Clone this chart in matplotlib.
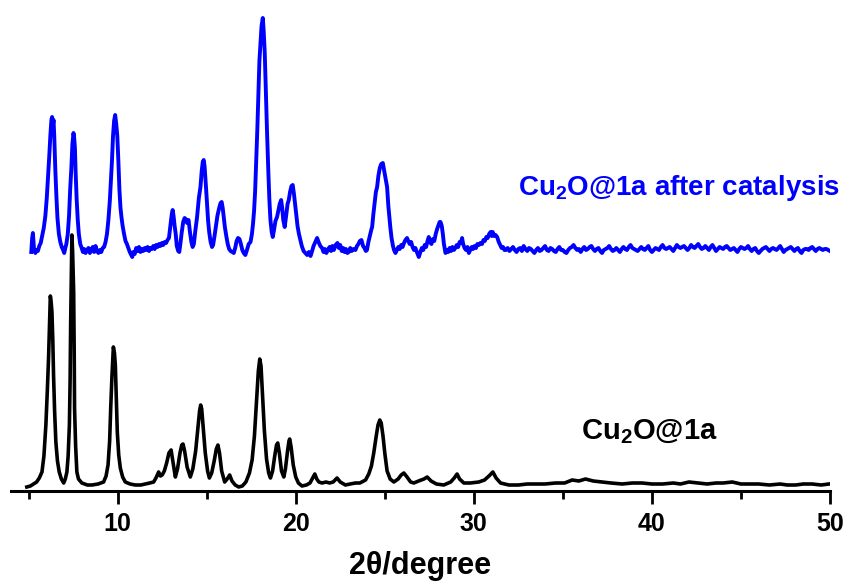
import matplotlib
matplotlib.use("Agg")
import matplotlib.pyplot as plt
import numpy as np

plt.rcParams['font.family'] = ['Liberation Sans', 'DejaVu Sans']
plt.rcParams['font.weight'] = 'bold'
plt.rcParams['mathtext.fontset'] = 'custom'
plt.rcParams['mathtext.rm'] = 'Liberation Sans:bold'
plt.rcParams['mathtext.bf'] = 'Liberation Sans:bold'
plt.rcParams['mathtext.default'] = 'bf'

# ---------------- data (2theta, intensity a.u.) ----------------
black_pattern = [
    (4.90, 4), (5.10, 5), (5.28, 7), (5.45, 9), (5.60, 13), (5.75, 19), (5.86, 35), (5.97, 66),
    (6.05, 100), (6.12, 133), (6.18, 170), (6.22, 195), (6.26, 190), (6.31, 179), (6.36, 150),
    (6.40, 116), (6.46, 80), (6.53, 49), (6.62, 30), (6.72, 19), (6.84, 12), (6.97, 8), (7.06, 12),
    (7.15, 19), (7.22, 35), (7.29, 66), (7.33, 110), (7.36, 166), (7.40, 220), (7.43, 256),
    (7.47, 240), (7.53, 199), (7.56, 140), (7.58, 83), (7.64, 45), (7.71, 19), (7.80, 12),
    (7.99, 8), (8.30, 6), (8.56, 6), (8.90, 7), (9.21, 9), (9.35, 15), (9.46, 26), (9.55, 50),
    (9.61, 83), (9.68, 115), (9.76, 144), (9.82, 138), (9.87, 126), (9.92, 95), (9.98, 59),
    (10.06, 36), (10.15, 23), (10.28, 14), (10.43, 9), (10.70, 7), (10.99, 6), (11.30, 6),
    (11.56, 7), (11.80, 8), (12.02, 9), (12.15, 13), (12.30, 19), (12.40, 15), (12.50, 16),
    (12.62, 20), (12.75, 28), (12.88, 38), (13.00, 41), (13.10, 30), (13.24, 14), (13.36, 22),
    (13.50, 38), (13.60, 46), (13.67, 47), (13.76, 40), (13.90, 24), (14.08, 14), (14.22, 22),
    (14.38, 40), (14.50, 62), (14.60, 80), (14.66, 86), (14.72, 82), (14.82, 60), (14.92, 38),
    (15.05, 20), (15.15, 13), (15.28, 18), (15.42, 30), (15.54, 42), (15.63, 46), (15.72, 38),
    (15.84, 20), (16.01, 9), (16.15, 12), (16.29, 16), (16.42, 10), (16.60, 6), (16.80, 4),
    (17.00, 5), (17.20, 9), (17.40, 18), (17.55, 31), (17.68, 55), (17.80, 90), (17.90, 120),
    (17.98, 132), (18.05, 125), (18.14, 95), (18.24, 60), (18.36, 32), (18.48, 18), (18.58, 13),
    (18.70, 20), (18.82, 35), (18.92, 46), (18.99, 48), (19.08, 38), (19.20, 20), (19.33, 14),
    (19.42, 22), (19.54, 40), (19.62, 50), (19.66, 52), (19.74, 44), (19.86, 26), (20.00, 14),
    (20.15, 8), (20.35, 5), (20.60, 6), (20.80, 8), (20.95, 13), (21.07, 17), (21.18, 12),
    (21.30, 9), (21.48, 8), (21.70, 9), (21.90, 8), (22.10, 9), (22.32, 13), (22.50, 9),
    (22.79, 6), (23.05, 7), (23.35, 8), (23.60, 8), (23.92, 11), (24.10, 17), (24.25, 25),
    (24.38, 38), (24.52, 55), (24.62, 66), (24.72, 71), (24.80, 68), (24.90, 55), (25.00, 38),
    (25.13, 20), (25.30, 12), (25.51, 9), (25.75, 12), (25.92, 16), (26.07, 18), (26.25, 14),
    (26.45, 9), (26.63, 8), (26.90, 10), (27.20, 12), (27.38, 14), (27.60, 10), (27.90, 7),
    (28.31, 6), (28.70, 9), (28.90, 13), (29.06, 17), (29.20, 12), (29.44, 8), (29.80, 8),
    (30.28, 9), (30.60, 11), (30.85, 15), (31.07, 19), (31.25, 13), (31.50, 8), (31.97, 6),
    (32.50, 6), (33.00, 7), (33.46, 7), (34.00, 7), (34.59, 8), (35.10, 8), (35.52, 11),
    (35.90, 10), (36.27, 12), (36.70, 10), (37.21, 9), (37.70, 8), (38.33, 7), (38.90, 8),
    (39.46, 8), (40.00, 7), (40.60, 7), (41.20, 8), (41.60, 7), (42.08, 9), (42.60, 8),
    (43.10, 7), (43.60, 8), (44.00, 8), (44.51, 9), (45.00, 7), (45.50, 7), (46.00, 7),
    (46.60, 6), (47.20, 7), (47.60, 6), (48.07, 6), (48.50, 7), (49.00, 7), (49.50, 6), (49.94, 7),
]

blue_pattern = [
    (5.15, 4), (5.20, 18), (5.24, 23), (5.30, 8), (5.38, 3), (5.45, 6), (5.52, 5), (5.60, 10),
    (5.68, 13), (5.76, 20), (5.85, 28), (5.94, 40), (6.02, 58), (6.10, 82), (6.16, 100),
    (6.22, 120), (6.28, 136), (6.32, 139), (6.36, 130), (6.40, 136), (6.44, 120), (6.50, 86),
    (6.56, 60), (6.62, 38), (6.70, 22), (6.78, 14), (6.86, 9), (6.94, 6), (7.00, 3), (7.06, 8),
    (7.12, 12), (7.20, 22), (7.27, 40), (7.33, 65), (7.40, 88), (7.46, 112), (7.52, 123),
    (7.56, 118), (7.60, 108), (7.64, 84), (7.70, 56), (7.76, 36), (7.82, 22), (7.90, 12),
    (7.98, 8), (8.05, 4), (8.12, 7), (8.20, 3), (8.28, 6), (8.36, 8), (8.44, 3), (8.52, 6),
    (8.60, 9), (8.68, 4), (8.76, 10), (8.84, 5), (8.92, 3), (9.00, 6), (9.08, 4), (9.16, 8),
    (9.24, 9), (9.32, 14), (9.40, 22), (9.48, 36), (9.56, 55), (9.62, 75), (9.68, 95),
    (9.74, 120), (9.80, 135), (9.86, 141), (9.92, 132), (9.98, 120), (10.04, 95), (10.10, 66),
    (10.16, 48), (10.22, 38), (10.28, 30), (10.36, 22), (10.44, 15), (10.52, 12), (10.60, 8),
    (10.68, 4), (10.76, 1), (10.82, -1), (10.88, 4), (10.96, 2), (11.04, 8), (11.12, 5),
    (11.20, 9), (11.28, 4), (11.36, 7), (11.44, 5), (11.52, 8), (11.60, 6), (11.68, 9),
    (11.76, 5), (11.84, 8), (11.92, 7), (12.00, 10), (12.08, 7), (12.16, 11), (12.24, 9),
    (12.32, 12), (12.40, 10), (12.48, 13), (12.56, 11), (12.64, 14), (12.72, 13), (12.80, 16),
    (12.88, 18), (12.96, 30), (13.04, 42), (13.09, 46), (13.14, 40), (13.20, 30), (13.26, 22),
    (13.32, 10), (13.40, 5), (13.46, 4), (13.52, 12), (13.60, 24), (13.68, 34), (13.76, 38),
    (13.82, 37), (13.90, 33), (13.98, 36), (14.06, 24), (14.14, 14), (14.21, 9), (14.28, 12),
    (14.36, 25), (14.46, 39), (14.56, 58), (14.65, 69), (14.72, 85), (14.78, 94), (14.83, 96),
    (14.88, 90), (14.92, 80), (14.96, 69), (15.02, 52), (15.08, 35), (15.14, 24), (15.22, 14),
    (15.30, 9), (15.36, 11), (15.44, 20), (15.52, 30), (15.60, 40), (15.70, 48), (15.78, 53),
    (15.84, 54), (15.90, 48), (15.96, 38), (16.02, 29), (16.10, 20), (16.18, 12), (16.26, 7),
    (16.34, 5), (16.44, 4), (16.52, 3), (16.60, 8), (16.68, 15), (16.76, 18), (16.84, 17),
    (16.92, 12), (17.00, 6), (17.08, 3), (17.17, 1), (17.26, 6), (17.36, 12), (17.46, 14),
    (17.54, 22), (17.60, 32), (17.66, 45), (17.72, 65), (17.78, 95), (17.84, 125), (17.90, 160),
    (17.96, 195), (18.02, 213), (18.08, 230), (18.15, 238), (18.20, 225), (18.26, 203),
    (18.32, 165), (18.39, 123), (18.46, 85), (18.52, 56), (18.58, 36), (18.65, 24), (18.71, 19),
    (18.78, 26), (18.86, 35), (18.95, 39), (19.02, 45), (19.10, 52), (19.18, 56), (19.24, 48),
    (19.30, 36), (19.38, 29), (19.46, 40), (19.54, 52), (19.61, 56), (19.68, 64), (19.76, 70),
    (19.83, 71), (19.90, 62), (19.96, 52), (20.02, 43), (20.10, 30), (20.18, 22), (20.26, 16),
    (20.34, 10), (20.44, 5), (20.54, 3), (20.64, 1), (20.74, 4), (20.83, 0), (20.92, 5),
    (21.00, 10), (21.10, 14), (21.20, 18), (21.28, 14), (21.38, 10), (21.48, 8), (21.56, 4),
    (21.64, 7), (21.72, 3), (21.80, 6), (21.90, 9), (21.98, 5), (22.06, 10), (22.14, 6),
    (22.24, 11), (22.34, 13), (22.42, 8), (22.50, 11), (22.58, 5), (22.66, 8), (22.74, 4),
    (22.82, 7), (22.90, 3), (22.98, 4), (23.06, 8), (23.14, 5), (23.24, 7), (23.35, 6),
    (23.44, 10), (23.52, 12), (23.60, 15), (23.69, 16), (23.78, 10), (23.86, 8), (23.94, 5),
    (24.00, 6), (24.08, 14), (24.16, 20), (24.24, 26), (24.29, 29), (24.36, 42), (24.44, 55),
    (24.50, 64), (24.57, 69), (24.64, 80), (24.72, 88), (24.80, 92), (24.89, 93), (24.96, 86),
    (25.04, 78), (25.13, 69), (25.20, 50), (25.26, 38), (25.31, 29), (25.38, 18), (25.46, 10),
    (25.52, 6), (25.60, 3), (25.68, 6), (25.76, 9), (25.84, 7), (25.92, 11), (26.00, 9),
    (26.08, 13), (26.16, 16), (26.25, 18), (26.32, 15), (26.40, 12), (26.48, 14), (26.56, 9),
    (26.64, 6), (26.72, 8), (26.80, 4), (26.91, -1), (27.00, 4), (27.08, 8), (27.16, 6),
    (27.24, 11), (27.32, 9), (27.40, 15), (27.47, 19), (27.54, 14), (27.62, 12), (27.70, 17),
    (27.78, 15), (27.86, 22), (27.94, 27), (28.02, 31), (28.08, 34), (28.13, 34), (28.20, 30),
    (28.26, 22), (28.32, 12), (28.41, 3), (28.48, 6), (28.56, 4), (28.64, 8), (28.72, 5),
    (28.80, 9), (28.88, 6), (28.96, 8), (29.04, 11), (29.12, 9), (29.20, 14), (29.28, 13),
    (29.34, 18), (29.40, 12), (29.48, 8), (29.56, 6), (29.64, 9), (29.72, 3), (29.80, 6),
    (29.88, 9), (29.96, 7), (30.04, 10), (30.12, 8), (30.20, 12), (30.28, 11), (30.37, 13),
    (30.46, 12), (30.54, 16), (30.62, 15), (30.70, 19), (30.78, 18), (30.86, 22), (30.94, 24),
    (31.00, 20), (31.06, 24), (31.14, 20), (31.22, 21), (31.31, 19), (31.40, 14), (31.48, 11),
    (31.56, 8), (31.64, 9), (31.72, 6), (31.80, 6),
    (31.9, 8), (32.0, 5), (32.1, 7), (32.2, 9), (32.3, 6), (32.4, 4), (32.5, 7), (32.6, 8),
    (32.7, 5), (32.8, 10), (32.9, 7), (33.0, 5), (33.1, 8), (33.2, 7), (33.3, 5), (33.4, 3),
    (33.5, 6), (33.6, 8), (33.7, 5), (33.8, 6), (33.9, 8), (34.0, 10), (34.1, 6), (34.2, 5),
    (34.3, 8), (34.4, 7), (34.5, 5), (34.6, 4), (34.7, 7), (34.8, 9), (34.9, 6), (35.0, 6),
    (35.1, 4), (35.2, 3), (35.3, 6), (35.4, 8), (35.5, 9), (35.6, 11), (35.7, 8), (35.8, 6),
    (35.9, 7), (36.0, 4), (36.1, 7), (36.2, 9), (36.3, 6), (36.4, 7), (36.5, 9), (36.6, 10),
    (36.7, 7), (36.8, 5), (36.9, 7), (37.0, 8), (37.1, 5), (37.2, 3), (37.3, 6), (37.4, 7),
    (37.5, 8), (37.6, 10), (37.7, 7), (37.8, 5), (37.9, 6), (38.0, 8), (38.1, 6), (38.2, 4),
    (38.3, 7), (38.4, 9), (38.5, 7), (38.6, 6), (38.7, 9), (38.8, 11), (38.9, 8), (39.0, 7),
    (39.1, 6), (39.2, 5), (39.3, 7), (39.4, 9), (39.5, 7), (39.6, 6), (39.7, 8), (39.8, 10),
    (39.9, 6), (40.0, 4), (40.1, 6), (40.2, 8), (40.3, 7), (40.4, 6), (40.5, 9), (40.6, 11),
    (40.7, 8), (40.8, 7), (40.9, 8), (41.0, 9), (41.1, 7), (41.2, 5), (41.3, 8), (41.4, 11),
    (41.5, 9), (41.6, 8), (41.7, 9), (41.8, 10), (41.9, 8), (42.0, 6), (42.1, 8), (42.2, 11),
    (42.3, 9), (42.4, 8), (42.5, 10), (42.6, 12), (42.7, 9), (42.8, 7), (42.9, 8), (43.0, 10),
    (43.1, 8), (43.2, 6), (43.3, 9), (43.4, 11), (43.5, 8), (43.6, 5), (43.7, 7), (43.8, 9),
    (43.9, 8), (44.0, 7), (44.1, 9), (44.2, 10), (44.3, 8), (44.4, 6), (44.5, 7), (44.6, 8),
    (44.7, 6), (44.8, 4), (44.9, 7), (45.0, 9), (45.1, 8), (45.2, 7), (45.3, 8), (45.4, 10),
    (45.5, 7), (45.6, 5), (45.7, 7), (45.8, 8), (45.9, 5), (46.0, 3), (46.1, 5), (46.2, 7),
    (46.3, 8), (46.4, 9), (46.5, 7), (46.6, 5), (46.7, 7), (46.8, 8), (46.9, 7), (47.0, 6),
    (47.1, 8), (47.2, 10), (47.3, 7), (47.4, 4), (47.5, 6), (47.6, 7), (47.7, 8), (47.8, 9),
    (47.9, 7), (48.0, 5), (48.1, 7), (48.2, 8), (48.3, 5), (48.4, 3), (48.5, 6), (48.6, 7),
    (48.7, 7), (48.8, 6), (48.9, 8), (49.0, 9), (49.1, 7), (49.2, 5), (49.3, 7), (49.4, 8),
    (49.5, 7), (49.6, 6), (49.7, 7), (49.8, 7), (49.9, 6), (50.0, 5),
]

blue_offset = 235
x_ticks = [10, 20, 30, 40, 50]
label_black = r'Cu$_2$O@1a'
label_blue = r'Cu$_2$O@1a after catalysis'
x_label = '2\u03b8/degree'

black_2theta, black_int = map(np.array, zip(*black_pattern))
blue_2theta, blue_int = map(np.array, zip(*blue_pattern))

# ---------------- figure ----------------
W, H = 849, 586
fig = plt.figure(figsize=(W / 100, H / 100), dpi=100)
ax = fig.add_axes([10.8 / W, (H - 491) / H, (830 - 10.8) / W, 491 / H])

ax.plot(black_2theta, black_int, color='black', lw=2.6, solid_joinstyle='round')
ax.plot(blue_2theta, blue_int + blue_offset, color='#0000FF', lw=2.8, solid_joinstyle='round')

ax.set_xlim(4, 50)
ax.set_ylim(0, 491)

for s in ['left', 'right', 'top']:
    ax.spines[s].set_visible(False)
ax.spines['bottom'].set_linewidth(2.2)
ax.set_yticks([])
ax.set_xticks(x_ticks)
ax.set_xticks([5, 15, 25, 35, 45], minor=True)
ax.tick_params(axis='x', which='major', direction='out', length=9, width=2.0,
               labelsize=18, pad=6)
ax.tick_params(axis='x', which='minor', direction='out', length=6, width=2.0)
for lab in ax.get_xticklabels():
    lab.set_fontweight('bold')
ax.set_xlabel(x_label, fontsize=22, fontweight='bold', labelpad=11)

ax.text(32.5, 303, label_blue, color='#0000FF', fontsize=20, fontweight='bold',
        ha='left', va='center')
ax.text(36.0, 59, label_black, color='black', fontsize=21, fontweight='bold',
        ha='left', va='center')

fig.savefig('out.png', dpi=100)
